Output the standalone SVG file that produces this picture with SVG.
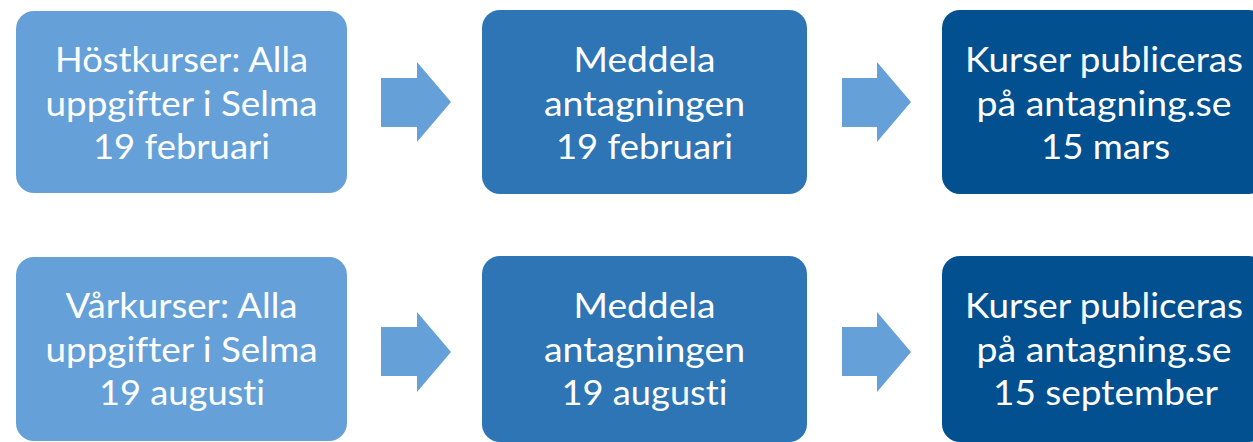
<svg xmlns="http://www.w3.org/2000/svg" width="1253" height="442" viewBox="0 0 1253 442">
<style>
.b1{fill:#65A1D8}
.b2{fill:#2E75B6}
.b3{fill:#02508F}
.arr{fill:#65A1D8}
text{font-family:Lato,"Open Sans","Liberation Sans",sans-serif;font-size:35px;fill:#FFFFFF;text-anchor:middle;font-variant-ligatures:none;font-feature-settings:"liga" 0,"clig" 0}
</style>
<rect width="1253" height="442" fill="#FFFFFF"/>
<g id="n1">
<rect class="b1" x="16" y="11" width="331" height="182" rx="18"/>
<text x="181.5" y="72" textLength="253" lengthAdjust="spacingAndGlyphs">Höstkurser: Alla</text>
<text x="181.5" y="116" textLength="272" lengthAdjust="spacingAndGlyphs">uppgifter i Selma</text>
<text x="181.5" y="159" textLength="177" lengthAdjust="spacingAndGlyphs">19 februari</text>
</g>
<g id="n2">
<rect class="b2" x="482" y="10" width="325" height="184" rx="18"/>
<text x="644.5" y="72" textLength="142" lengthAdjust="spacingAndGlyphs">Meddela</text>
<text x="644.5" y="116" textLength="201" lengthAdjust="spacingAndGlyphs">antagningen</text>
<text x="644.5" y="159" textLength="177" lengthAdjust="spacingAndGlyphs">19 februari</text>
</g>
<g id="n3">
<rect class="b3" x="942" y="10" width="325" height="184" rx="18"/>
<text x="1104" y="72" textLength="278" lengthAdjust="spacingAndGlyphs">Kurser publiceras</text>
<text x="1104" y="116" textLength="255" lengthAdjust="spacingAndGlyphs">på antagning.se</text>
<text x="1105.5" y="159" textLength="129" lengthAdjust="spacingAndGlyphs">15 mars</text>
</g>
<g id="n4">
<rect class="b1" x="16" y="257" width="331" height="184" rx="18"/>
<text x="181.5" y="318" textLength="232" lengthAdjust="spacingAndGlyphs">Vårkurser: Alla</text>
<text x="181.5" y="362" textLength="272" lengthAdjust="spacingAndGlyphs">uppgifter i Selma</text>
<text x="182" y="405" textLength="166" lengthAdjust="spacingAndGlyphs">19 augusti</text>
</g>
<g id="n5">
<rect class="b2" x="482" y="256" width="325" height="186" rx="18"/>
<text x="644.5" y="318" textLength="142" lengthAdjust="spacingAndGlyphs">Meddela</text>
<text x="644.5" y="362" textLength="201" lengthAdjust="spacingAndGlyphs">antagningen</text>
<text x="644.5" y="405" textLength="166" lengthAdjust="spacingAndGlyphs">19 augusti</text>
</g>
<g id="n6">
<rect class="b3" x="942" y="256" width="325" height="186" rx="18"/>
<text x="1104" y="318" textLength="278" lengthAdjust="spacingAndGlyphs">Kurser publiceras</text>
<text x="1104" y="362" textLength="255" lengthAdjust="spacingAndGlyphs">på antagning.se</text>
<text x="1105.5" y="405" textLength="225" lengthAdjust="spacingAndGlyphs">15 september</text>
</g>
<g id="connectors">
<polygon class="arr" points="381,78 417,78 417,62 451,102 417,142 417,127 381,127"/>
<polygon class="arr" points="842,78 877,78 877,62 911,102 877,142 877,127 842,127"/>
<polygon class="arr" points="381,327 417,327 417,312 451,352 417,392 417,376 381,376"/>
<polygon class="arr" points="842,327 877,327 877,312 911,352 877,392 877,376 842,376"/>
</g>
</svg>
